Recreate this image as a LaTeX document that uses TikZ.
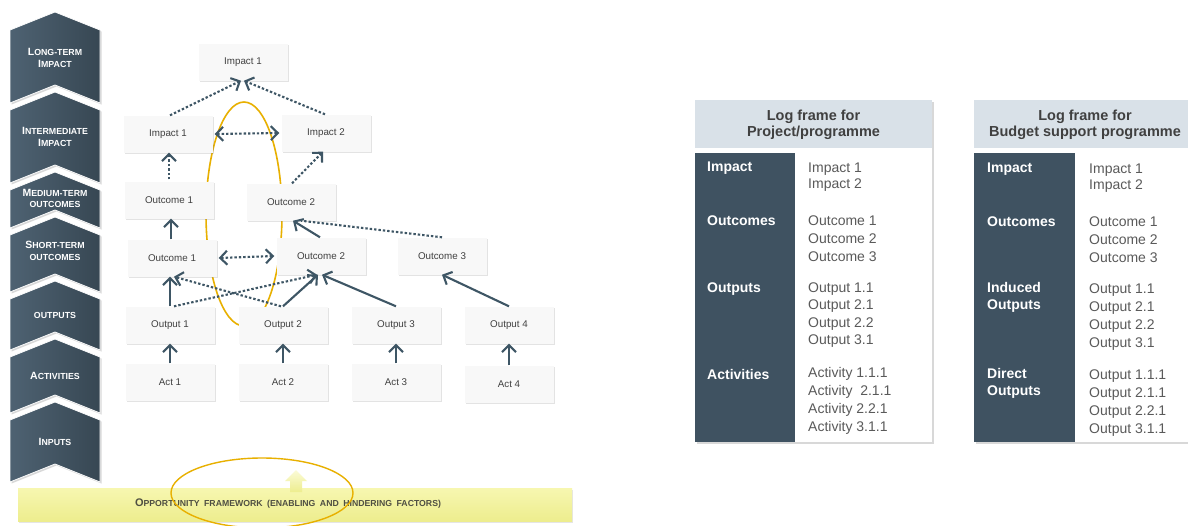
\documentclass[tikz,border=0pt]{standalone}
\usepackage{fontspec}
\setmainfont{Liberation Sans}
\usetikzlibrary{arrows.meta,calc,shadows}
\definecolor{chevL}{HTML}{4E6272}
\definecolor{chevR}{HTML}{374753}
\definecolor{slate}{HTML}{3F5261}
\definecolor{arr}{HTML}{3E5665}
\definecolor{boxfill}{HTML}{F8F8F8}
\definecolor{hdr}{HTML}{D9E1E8}
\definecolor{hdrtxt}{HTML}{404040}
\definecolor{valtxt}{HTML}{5A5A5A}
\definecolor{gold}{HTML}{E8B000}
\definecolor{ybarT}{HTML}{F7F7B0}
\definecolor{ybarB}{HTML}{EDED8E}
\definecolor{opptxt}{HTML}{4F4F42}
\newcommand{\SmC}[2]{{\fontsize{10.5}{11}\selectfont #1}{\fontsize{8.8}{11}\selectfont #2}}
\tikzset{
  chevshape/.style={left color=chevL, right color=chevR, draw=white, line width=0.8pt,
    drop shadow={shadow xshift=1.5pt, shadow yshift=-1.5pt, opacity=0.3}},
  chevtxt/.style={text=white, font=\bfseries\fontsize{8.8}{11.5}\selectfont, align=center, inner sep=0pt},
  box/.style={fill=boxfill, minimum width=89pt, minimum height=37pt, inner sep=0pt,
    font=\fontsize{9.8}{11}\selectfont, text=hdrtxt,
    drop shadow={shadow xshift=1pt, shadow yshift=-1.5pt, opacity=0.22}},
  barbtip/.tip={Straight Barb[length=7pt,width=14pt,line width=2.1pt]},
  conn/.style={draw=arr, line width=2.1pt, -barbtip},
  dconn/.style={conn, dash pattern=on 2.4pt off 2pt},
  dline/.style={draw=arr, line width=2.1pt, dash pattern=on 2.4pt off 2pt},
  hdrnode/.style={font=\bfseries\fontsize{14.5}{16.5}\selectfont, text=hdrtxt, align=center, inner sep=0pt},
  lbl/.style={font=\bfseries\fontsize{14}{17.5}\selectfont, text=white, anchor=west, inner sep=0pt},
  val/.style={font=\fontsize{14}{17.5}\selectfont, text=valtxt, anchor=west, inner sep=0pt},
  card/.style={fill=white, drop shadow={shadow xshift=1.5pt, shadow yshift=-2pt, opacity=0.3}}
}
\begin{document}
\begin{tikzpicture}[x=1pt,y=-1pt]
\useasboundingbox (0,0) rectangle (1188,525);
\fill[white] (0,0) rectangle (1188,525);

% ---------- left chevrons ----------
\foreach \yt/\yb in {12/103, 92/183, 172/228, 217/292, 281/350, 339/413, 402/482} {
  \path[chevshape] (10,\yt+18) -- (55,\yt) -- (100,\yt+18) -- (100,\yb) -- (55,\yb-18) -- (10,\yb) -- cycle;
}
\node[chevtxt] (cv1) at (55,58) {\SmC{L}{ONG-TERM}\\\SmC{I}{MPACT}};
\node[chevtxt] (cv2) at (55,137) {\SmC{I}{NTERMEDIATE}\\\SmC{I}{MPACT}};
\node[chevtxt] (cv3) at (55,198.5) {\SmC{M}{EDIUM-TERM}\\OUTCOMES};
\node[chevtxt] (cv4) at (55,251) {\SmC{S}{HORT-TERM}\\OUTCOMES};
\node[chevtxt] (cv5) at (55,315) {OUTPUTS};
\node[chevtxt] (cv6) at (55,376) {\SmC{A}{CTIVITIES}};
\node[chevtxt] (cv7) at (55,442) {\SmC{I}{NPUTS}};

% ---------- opportunity bar ----------
\path[top color=ybarT, bottom color=ybarB, drop shadow={shadow xshift=1pt, shadow yshift=-1.5pt, opacity=0.2}]
  (18,488) rectangle (572,521);
\path[top color=ybarT!50!white, bottom color=ybarB] (296,470) -- (307,481) -- (302,481) -- (302,492) -- (290,492) -- (290,481) -- (285,481) -- cycle;
\node[text=opptxt, font=\bfseries, inner sep=0pt] (opp) at (288,504)
  {{\fontsize{11}{11}\selectfont O}{\fontsize{8.7}{11}\selectfont PPORTUNITY\hspace{4.5pt}FRAMEWORK\hspace{4.5pt}(ENABLING\hspace{4.5pt}AND\hspace{4.5pt}HINDERING\hspace{4.5pt}FACTORS)}};
\draw[gold, line width=1.4pt] (262,493) ellipse [x radius=91, y radius=35];

% ---------- results chain ----------
\draw[gold, line width=1.6pt] (244,214) ellipse [x radius=38, y radius=112];

\node[box] (ia) at (243,62) {Impact 1};
\node[box] (ib) at (168,134) {Impact 1};
\node[box] (ic) at (326,133) {Impact 2};
\node[box] (oa) at (169,200) {Outcome 1};
\node[box] (ob) at (291,202) {Outcome 2};
\node[box] (sa) at (172,258) {Outcome 1};
\node[box] (sb) at (321,256) {Outcome 2};
\node[box] (sc) at (442,256) {Outcome 3};
\node[box] (p1) at (170,325) {Output 1};
\node[box] (p2) at (283,325) {Output 2};
\node[box] (p3) at (396,325) {Output 3};
\node[box] (p4) at (509,325) {Output 4};
\node[box] (a1) at (170,382) {Act 1};
\node[box] (a2) at (283,382) {Act 2};
\node[box] (a3) at (396,382) {Act 3};
\node[box] (a4) at (509,384) {Act 4};

\draw[dconn] ([xshift=2pt]ib.north) -- ([xshift=-2pt]ia.south);
\draw[dconn] ([xshift=-1pt]ic.north) -- ([xshift=1pt]ia.south);
\draw[dconn, barbtip-barbtip] ([xshift=2pt]ib.east) -- ([xshift=-2pt]ic.west);
\draw[dconn] ([yshift=2pt]oa.north) -- (oa.north |- ib.south);
\draw[dconn] ([xshift=1pt]ob.north) -- ([xshift=-3pt]ic.south);
\draw[conn] ([xshift=-1pt]sa.north) -- ([xshift=-1pt]sa.north |- oa.south);
\draw[conn] ([xshift=-1pt]sb.north) -- ([xshift=2pt]ob.south);
\draw[dline] (sc.north) -- ([xshift=10pt]ob.south);
\draw[dconn, barbtip-barbtip] ([xshift=2pt]sa.east) -- ([xshift=-2pt]sb.west);
\draw[conn] (p1.north) -- (p1.north |- sa.south);
\draw[dconn] ([xshift=4pt]p1.north) -- ([xshift=-4pt]sb.south);
\draw[conn] (p2.north) -- ([xshift=-3pt]sb.south);
\draw[dconn] ([xshift=-2pt]p2.north) -- ([xshift=2pt]sa.south);
\draw[conn] (p3.north) -- ([xshift=1pt]sb.south);
\draw[conn] (p4.north) -- (sc.south);
\foreach \i in {1,2,3,4} { \draw[conn] (a\i.north) -- (p\i.south); }

% ---------- log frame tables ----------
\begin{scope}
\clip (0,0) rectangle (1188,525);
\path[card] (695,100) rectangle (932,442);
\fill[hdr] (695,100) rectangle (932,148);
\fill[slate] (695,153) rectangle (795,442);
\node[hdrnode] (h1) at (813.5,125) {Log frame for\\Project/programme};
\node[lbl] (l11) at (707,168) {Impact};
\node[lbl] (l12) at (707,221) {Outcomes};
\node[lbl] (l13) at (707,289) {Outputs};
\node[lbl] (l14) at (707,374) {Activities};
\foreach \y/\t [count=\k] in {169/Impact 1, 185.5/Impact 2, 221/Outcome 1, 239/Outcome 2, 257/Outcome 3,
   289/Output 1.1, 306.5/Output 2.1, 324/Output 2.2, 341.5/Output 3.1,
   374/Activity 1.1.1, 392/Activity\ \ 2.1.1, 410/Activity 2.2.1, 428/Activity 3.1.1}
  { \node[val] (v1\k) at (808,\y) {\t}; }

\path[card] (974,100) rectangle (1196,442);
\fill[hdr] (974,100) rectangle (1196,148);
\fill[slate] (974,153) rectangle (1075,442);
\node[hdrnode] (h2) at (1085,125) {Log frame for\\Budget support programme};
\node[lbl] (l21) at (987,169) {Impact};
\node[lbl] (l22) at (987,222) {Outcomes};
\node[lbl, align=left, anchor=north west] (l23) at (987,282) {Induced\\Outputs};
\node[lbl, align=left, anchor=north west] (l24) at (987,368) {Direct\\Outputs};
\foreach \y/\t [count=\k] in {170/Impact 1, 186/Impact 2, 222/Outcome 1, 240/Outcome 2, 258/Outcome 3,
   290/Output 1.1, 308/Output 2.1, 326/Output 2.2, 344/Output 3.1,
   376/Output 1.1.1, 394/Output 2.1.1, 412/Output 2.2.1, 430/Output 3.1.1}
  { \node[val] (v2\k) at (1089,\y) {\t}; }
\end{scope}
\end{tikzpicture}
\end{document}
